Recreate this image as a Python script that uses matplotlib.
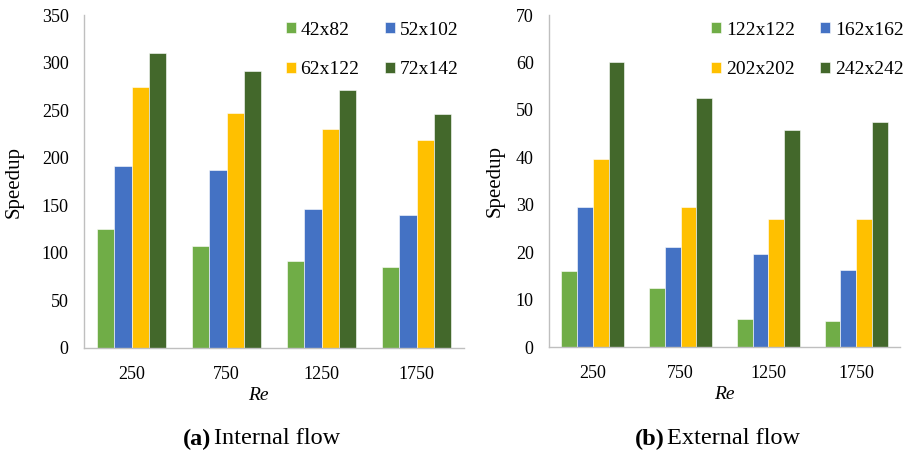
import numpy as np
import matplotlib
matplotlib.use('Agg')
import matplotlib.pyplot as plt

plt.rcParams['font.family'] = ['Liberation Serif', 'DejaVu Serif']

re_labels = ['250', '750', '1250', '1750']

# internal flow speedups per grid
internal_grids = ['42x82', '52x102', '62x122', '72x142']
internal_42x82 = [125, 107, 91, 85]
internal_52x102 = [191, 187, 146, 140]
internal_62x122 = [274, 247, 230, 219]
internal_72x142 = [310, 291, 271, 246]

# external flow speedups per grid
external_grids = ['122x122', '162x162', '202x202', '242x242']
external_122 = [16.1, 12.4, 5.8, 5.4]
external_162 = [29.5, 21.1, 19.7, 16.3]
external_202 = [39.7, 29.5, 27.0, 27.0]
external_242 = [60.1, 52.5, 45.7, 47.5]

colors = ['#70AD47', '#4472C4', '#FFC000', '#43682B']
axis_gray = '#BFBFBF'


def bar_panel(ax, series, names, ymax, ystep, leg_anchor, ylabpad, re_x):
    x = np.arange(len(re_labels))
    w = 0.18
    handles = []
    for i, (vals, name) in enumerate(zip(series, names)):
        h = ax.bar(x + (i - 1.5) * w, vals, w, color=colors[i], label=name,
                   edgecolor='white', linewidth=0.4)
        handles.append(h)
    ax.set_xlim(-0.5, len(re_labels) - 0.5)
    ax.set_ylim(0, ymax)
    ax.set_yticks(np.arange(0, ymax + 1, ystep))
    ax.set_xticks(x)
    ax.set_xticklabels(re_labels)
    ax.tick_params(length=0, labelsize=13)
    ax.tick_params(axis='y', pad=11)
    ax.tick_params(axis='x', pad=13)
    for s in ['top', 'right']:
        ax.spines[s].set_visible(False)
    for s in ['left', 'bottom']:
        ax.spines[s].set_color(axis_gray)
        ax.spines[s].set_linewidth(1.0)
    ax.set_ylabel('Speedup', fontsize=15, labelpad=ylabpad)
    ax.set_xlabel('Re', fontsize=14, style='italic', va='center')
    ax.xaxis.set_label_coords(re_x, -0.144)
    # legend filled row by row: (0, 1) on top, (2, 3) below
    order = [0, 2, 1, 3]
    ax.legend([handles[k] for k in order], [names[k] for k in order],
              ncol=2, loc='upper right', bbox_to_anchor=leg_anchor,
              frameon=False, fontsize=14, handlelength=0.5, handleheight=0.5,
              handletextpad=0.25, columnspacing=1.3, labelspacing=1.15,
              borderaxespad=0.0, borderpad=0.0)


fig = plt.figure(figsize=(9.07, 4.5), dpi=100)
ax1 = fig.add_axes([84 / 907, 102 / 450, 380 / 907, 333 / 450])
ax2 = fig.add_axes([549 / 907, 103 / 450, 351 / 907, 332 / 450])

bar_panel(ax1, [internal_42x82, internal_52x102, internal_62x122, internal_72x142],
          internal_grids, 350, 50, (0.985, 0.98), 13, 0.46)
bar_panel(ax2, [external_122, external_162, external_202, external_242],
          external_grids, 70, 10, (1.01, 0.98), 8, 0.5)

# sub-figure captions
cy = 1 - 439 / 450
fig.text(211 / 907, cy, '(a)', fontsize=17.5, fontweight='bold',
         ha='right', va='center')
fig.text(214 / 907, cy, 'Internal flow', fontsize=17.5, ha='left', va='center')
fig.text(665 / 907, cy, '(b)', fontsize=17.5, fontweight='bold',
         ha='right', va='center')
fig.text(667 / 907, cy, 'External flow', fontsize=17.5, ha='left', va='center')

fig.savefig('out.png', dpi=100)
